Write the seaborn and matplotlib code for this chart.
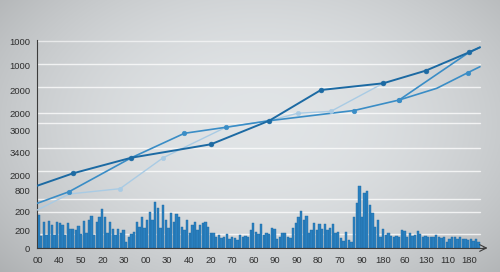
import numpy as np
import pandas as pd
import matplotlib
matplotlib.use("Agg")
import matplotlib.pyplot as plt
import seaborn as sns

# ---------------- data ----------------
bar_heights = [
    33, 12, 26, 13, 27, 23, 13, 26, 25, 23,
    13, 25, 19, 19, 18, 22, 14, 27, 15, 28,
    32, 13, 26, 31, 39, 31, 15, 26, 19, 13,
    19, 15, 18, 6, 11, 14, 16, 26, 21, 31,
    20, 28, 36, 28, 46, 40, 20, 43, 28, 20,
    35, 26, 34, 31, 21,
    18, 28, 15, 23, 26, 18, 23, 25, 26, 21,
    15, 15, 11, 13, 10, 11, 14, 9, 11, 10,
    8, 13, 11, 12, 11, 18, 25, 16, 14, 24,
    13, 15, 14, 20, 19, 9, 11, 15, 15, 11,
    10, 20, 25, 31, 37, 28, 32, 15, 18, 25,
    18, 24, 19, 24, 18,
    20, 24, 15, 16, 10, 7, 16, 8, 6, 31,
    45, 62, 31, 55, 57, 43, 35, 21, 28, 11,
    19, 13, 15, 12, 11, 12, 11, 18, 17, 11,
    15, 12, 13, 17, 14, 11, 12, 11, 11, 11,
    13, 11, 10, 11, 6, 9, 11, 11, 9, 11,
    9, 9, 8, 9, 7, 9, 6,
]
bar_index = list(range(len(bar_heights)))

dark_x = [-0.5, 13, 35, 65, 87, 106.5, 130, 146, 162.4, 166.5]
dark_y = [62.3, 74.7, 90.3, 103.7, 127.3, 158, 164.7, 177.3, 195.7, 200.7]
dark_marked = [1, 2, 3, 4, 5, 6, 7, 8]

mid_x = [-0.5, 11.5, 35, 55, 70.6, 87, 119, 136, 162.4, 166.5]
mid_y = [44.7, 56.3, 90.3, 114.7, 120.7, 127.3, 137.5, 148, 195.7, 200.7]
mid_marked = [1, 3, 4, 6, 7]

branch_x = [136, 150.2, 161.9, 166.5]
branch_y = [148, 159.7, 175.3, 181.3]
branch_marked = [0, 2]

light_x = [-0.5, 11.5, 30.7, 47, 70.6, 87, 97.7, 110.3, 130]
light_y = [38, 54, 59.3, 90.3, 120.7, 127.3, 134.7, 136.7, 164.7]
light_marked = [2, 3, 6, 7]

y_tick_pos = [206.3, 182.3, 158, 134.7, 117.3, 95.3, 72.7, 57.3, 36.3, 17, 0]
y_tick_labels = ["1000", "1000", "2000", "2000", "3000", "3400", "2000", "800", "200", "200", "0"]
grid_levels = [184, 160.7, 135.3, 124.7, 99.7, 77.3, 48.7, 35.7, 13.7]

x_tick_labels = ["00", "40", "50", "20", "30", "00", "30", "40", "20", "70", "60",
                 "90", "90", "80", "70", "90", "180", "60", "130", "110", "180"]

# ---------------- figure ----------------
sns.set_theme(style="white")
plt.rcParams["font.family"] = ["Liberation Sans", "DejaVu Sans"]

W, H = 500, 272
fig = plt.figure(figsize=(W / 100, H / 100), dpi=100)

# vignette background
bg = fig.add_axes([0, 0, 1, 1], zorder=-10)
yy, xx = np.mgrid[0:H, 0:W]
r = np.sqrt(((xx - W * 0.52) / (W * 0.62)) ** 2 + ((yy - H * 0.45) / (H * 0.75)) ** 2)
v = np.clip(0.885 - 0.16 * r ** 2, 0.66, 1)
img = np.dstack([v * 0.995, v * 1.01, v * 1.02]).clip(0, 1)
bg.imshow(img, aspect="auto", interpolation="bilinear")
bg.axis("off")

ax = fig.add_axes([37.3 / W, 1 - 248 / H, (485 - 37.3) / W, (248 - 40) / H])
ax.set_facecolor("none")

# grid lines
for g in grid_levels:
    ax.plot([-0.5, 166.5], [g, g], color="white", lw=1.0, alpha=0.75, zorder=0)
ax.plot([-0.5, 166.5], [207.3, 207.3], color="white", lw=1.0, alpha=0.6, zorder=0)

bar_df = pd.DataFrame({"i": bar_index, "h": bar_heights})
sns.barplot(data=bar_df, x="i", y="h", native_scale=True, color="#2a80c0",
            saturation=1, width=0.88, errorbar=None, ax=ax,
            edgecolor="#1f6aa3", linewidth=0.3, zorder=2)

def draw(xs, ys, marked, color, lw, ms, alpha=1.0):
    df = pd.DataFrame({"x": xs, "y": ys})
    sns.lineplot(data=df, x="x", y="y", sort=False, estimator=None, color=color,
                 lw=lw, ax=ax, zorder=4, alpha=alpha)
    mdf = df.iloc[marked]
    sns.scatterplot(data=mdf, x="x", y="y", color=color, s=ms, edgecolor=color,
                    linewidth=0.4, ax=ax, zorder=5, alpha=alpha)

draw(light_x, light_y, light_marked, "#a9cbe4", 1.0, 10)
draw(branch_x, branch_y, branch_marked, "#3a8dc6", 1.2, 11)
draw(mid_x, mid_y, mid_marked, "#3a8dc6", 1.2, 11)
draw(dark_x, dark_y, dark_marked, "#1c6aa3", 1.4, 12)

ax.set_xlim(-0.5, 168.4)
ax.set_ylim(0, 208)
ax.set_xlabel("")
ax.set_ylabel("")

x_tick_pos = np.linspace(-0.25, 162.4, len(x_tick_labels))
ax.set_xticks(x_tick_pos)
ax.set_xticklabels(x_tick_labels)
ax.set_xticks((x_tick_pos[:-1] + x_tick_pos[1:]) / 2, minor=True)
ax.set_yticks(y_tick_pos)
ax.set_yticklabels(y_tick_labels)
ax.set_yticks(np.arange(2, 208, 4.6), minor=True)

ax.tick_params(axis="both", which="major", labelsize=6.8, colors="#333333",
               length=3, width=0.7, direction="out", pad=2)
ax.tick_params(axis="both", which="minor", length=1.8, width=0.5, colors="#444444")
ax.tick_params(axis="x", pad=3)
for lab in ax.get_xticklabels() + ax.get_yticklabels():
    lab.set_color("#2e2e2e")

for s in ["top", "right"]:
    ax.spines[s].set_visible(False)
for s in ["left", "bottom"]:
    ax.spines[s].set_color("#3c3c3c")
    ax.spines[s].set_linewidth(0.8)

ax.annotate("", xy=(1.012, 0), xytext=(0.99, 0), xycoords="axes fraction",
            arrowprops=dict(arrowstyle="->", color="#3c3c3c", lw=0.8), annotation_clip=False)

fig.savefig("out.png", dpi=100)
